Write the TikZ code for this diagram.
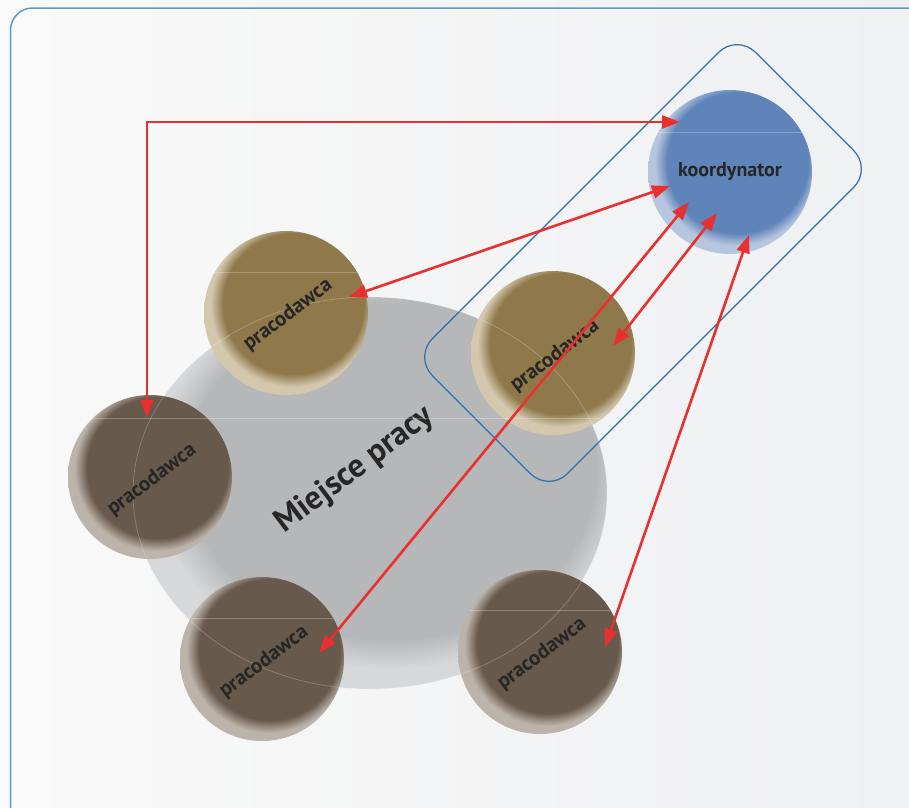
\documentclass[tikz,border=0pt]{standalone}
\usepackage{fontspec}
\setmainfont{PT Sans}
\usetikzlibrary{arrows.meta}
\definecolor{bgA}{HTML}{F9F9F9}
\definecolor{bgB}{HTML}{EFF0F2}
\definecolor{framec}{HTML}{5A9CC7}
\definecolor{rectc}{HTML}{2E6EAE}
\definecolor{redc}{HTML}{E8302E}
\definecolor{txtc}{HTML}{262626}
\definecolor{kbase}{HTML}{5F84B9}
\definecolor{krim}{HTML}{B7C6DF}
\definecolor{gbase}{HTML}{8F794B}
\definecolor{grim}{HTML}{D3C7AE}
\definecolor{bbase}{HTML}{67594B}
\definecolor{brim}{HTML}{BCB3AA}
\definecolor{ebase}{HTML}{B5B7B9}
\definecolor{erim}{HTML}{D6D8DA}
\colorlet{cbase}{gray}
\colorlet{crim}{white}
\pgfdeclareradialshading[cbase,crim]{rimshade}{\pgfpoint{4bp}{5bp}}{color(0bp)=(cbase); color(21.5bp)=(cbase); color(25bp)=(crim); color(50bp)=(crim)}
\begin{document}
\begin{tikzpicture}[x=1pt,y=-1pt,
  rimfill/.style 2 args={/utils/exec={\colorlet{cbase}{#1}\colorlet{crim}{#2}}, shading=rimshade},
  disc/.style={circle, inner sep=0pt, minimum size=164pt},
  goldc/.style={disc, rimfill={gbase}{grim}},
  brownc/.style={disc, rimfill={bbase}{brim}},
  lbl/.style={text=txtc, font=\bfseries\fontsize{21}{21}\selectfont, rotate=37, inner sep=0pt},
  seam/.style={white, opacity=0.25, line width=0.7pt},
  link/.style={redc, line width=2.6pt, {Triangle[length=18pt,width=13pt]}-{Triangle[length=18pt,width=13pt]}}
]
\useasboundingbox (0,0) rectangle (909,807);
% background
\shade[left color=bgA, right color=bgB] (0,0) rectangle (909,807);
% outer frame
\draw[framec, line width=1.5pt, rounded corners=22pt] (10.5,8) rectangle (950,850);
% workplace ellipse
\path[rimfill={ebase}{erim}] (370,493) ellipse [x radius=237, y radius=196];
\node[text=txtc, font=\bfseries\fontsize{33}{33}\selectfont, rotate=37, inner sep=0pt] (mp) at (355,470) {Miejsce pracy};
% coordinator frame
\node[draw=rectc, line width=1.2pt, rounded corners=26pt, minimum width=457pt, minimum height=191pt, rotate=45, inner sep=0pt] (frame) at (643,263) {};
% circles
\node[disc, rimfill={kbase}{krim}] (k) at (730,172) {};
\node[goldc] (p1) at (286,313) {};
\node[goldc] (p2) at (553,353) {};
\node[brownc] (p3) at (150,477) {};
\node[brownc] (p4) at (262,659) {};
\node[brownc] (p5) at (540,652) {};
% seams
\draw[seam] (370,493) ellipse [x radius=237, y radius=196];
\draw[seam] (658,132) -- (802,132);
\draw[seam] (215,272) -- (357,272);
\draw[seam] (93,418) -- (600,418);
\draw[seam] (191,618) -- (333,618);
\draw[seam] (470,610) -- (610,610);
% labels
\node[text=txtc, font=\bfseries\fontsize{20}{20}\selectfont, inner sep=0pt] at (k) {koordynator};
\node[lbl] at (288,315) {pracodawca};
\node[lbl] at (555,356) {pracodawca};
\node[lbl] at (152,480) {pracodawca};
\node[lbl] at (264,662) {pracodawca};
\node[lbl] at (542,654) {pracodawca};
% arrow end points
\coordinate (e3) at (147,418);
\coordinate (ek1) at (680,122);
\coordinate (ek2) at (670,186);
\coordinate (e1) at (349,297);
\coordinate (ek3) at (689,202);
\coordinate (e4) at (319,653);
\coordinate (ek4) at (717,213);
\coordinate (e2) at (613,346);
\coordinate (ek5) at (749,235);
\coordinate (e5) at (605,647);
% arrows
\draw[link, line join=miter] (e3) |- (ek1);
\draw[link] (ek2) -- (e1);
\draw[link] (ek3) -- (e4);
\draw[link] (ek4) -- (e2);
\draw[link] (ek5) -- (e5);
\end{tikzpicture}
\end{document}
